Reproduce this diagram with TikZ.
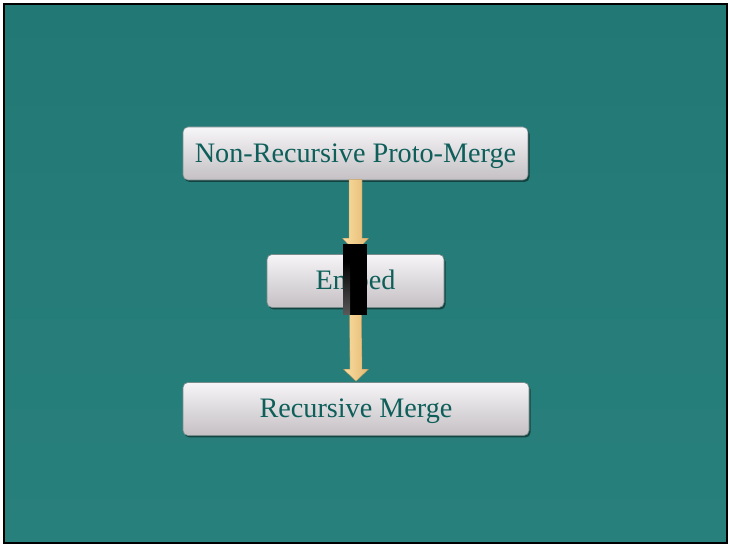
\documentclass[tikz,border=0pt]{standalone}
\usepackage{fontspec}
\setmainfont{Liberation Serif}
\usetikzlibrary{calc,shadows}
\definecolor{bgtop}{RGB}{34,120,116}
\definecolor{bgmid}{RGB}{48,138,135}
\definecolor{bgbot}{RGB}{40,128,124}
\definecolor{txt}{RGB}{14,94,90}
\definecolor{boxtop}{RGB}{246,245,247}
\definecolor{boxbot}{RGB}{196,192,196}
\definecolor{boxedge}{RGB}{120,140,140}
\definecolor{tanleft}{RGB}{250,222,160}
\definecolor{tanright}{RGB}{228,184,114}
\tikzset{
  stepbox/.style={draw=boxedge, line width=0.6pt, rounded corners=5pt,
    top color=boxtop, bottom color=boxbot, text=txt,
    font=\fontsize{28.2}{30}\selectfont, minimum height=53pt, inner sep=0pt,
    text height=21pt, text depth=3.5pt,
    drop shadow={shadow xshift=1.5pt, shadow yshift=-2pt, fill=black, opacity=0.45}},
  tanarrow/.style={left color=tanleft, right color=tanright, draw=tanright!80!black, line width=0.3pt}
}
\begin{document}
\begin{tikzpicture}[x=1pt,y=-1pt]
\useasboundingbox (0,0) rectangle (729,545);
\fill[white] (0,0) rectangle (729,545);
\shade[top color=bgtop, middle color=bgmid, bottom color=bgbot] (4,4) rectangle (727,543);
\draw[black, line width=2.5pt] (4,4) rectangle (727,543);

\node[stepbox, minimum width=345pt] (nrpm) at (355.5,153.5) {Non-Recursive Proto-Merge};
\node[stepbox, minimum width=177pt] (embed) at (355.5,281) {Embed};
\node[stepbox, minimum width=346pt] (rm) at (356,409) {Recursive Merge};

% arrow 1
\shade[tanarrow]
  ($(nrpm.south)+(-6.5,-1)$) -- ($(nrpm.south)+(6.5,-1)$) --
  ($(embed.north)+(6.5,-16)$) -- ($(embed.north)+(13,-16)$) --
  ($(embed.north)+(0,-2)$) --
  ($(embed.north)+(-13,-16)$) -- ($(embed.north)+(-6.5,-16)$) -- cycle;
% arrow 2
\shade[tanarrow]
  ($(embed.south)+(-6,0)$) -- ($(embed.south)+(6,0)$) --
  ($(rm.north)+(6,-13)$) -- ($(rm.north)+(12.5,-13)$) --
  ($(rm.north)+(0,-1)$) --
  ($(rm.north)+(-12.5,-13)$) -- ($(rm.north)+(-6,-13)$) -- cycle;

% black occluding block
\fill[black] (343,244) rectangle (367,315);
\shade[top color=black, bottom color=black!65] (343,262) rectangle (350,315);
\end{tikzpicture}
\end{document}
